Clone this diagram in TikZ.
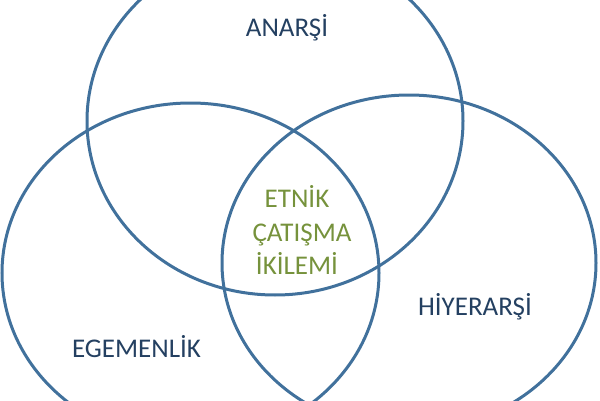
\documentclass[tikz,border=0pt]{standalone}
\usepackage{fontspec}
\setmainfont{Carlito}
\definecolor{ringblue}{RGB}{65,113,156}
\definecolor{labelblue}{RGB}{36,64,97}
\definecolor{centergreen}{RGB}{118,146,60}
\begin{document}
\begin{tikzpicture}[x=1pt,y=1pt,
  ring/.style={draw=ringblue,line width=3pt},
  lbl/.style={text=labelblue,font=\fontsize{27}{31}\selectfont,anchor=base,inner sep=0pt},
  mid/.style={text=centergreen,font=\fontsize{27}{31}\selectfont,anchor=base,inner sep=0pt}]
\useasboundingbox (0,0) rectangle (600,400);
\begin{scope}
\clip (0,0) rectangle (600,400);
\draw[ring] (275,279) ellipse [x radius=188,y radius=174];
\draw[ring] (190.5,127) ellipse [x radius=188.5,y radius=170];
\draw[ring] (409,137) ellipse [x radius=187,y radius=168];
\end{scope}
\node[lbl] (anarsi) at (287,363) {ANARŞİ};
\node[lbl] (hiyerarsi) at (475,85) {HİYERARŞİ};
\node[lbl] (egemenlik) at (136.5,43) {EGEMENLİK};
\node[mid] (etnik) at (297,193) {ETNİK};
\node[mid] (catisma) at (302,159) {ÇATIŞMA};
\node[mid] (ikilemi) at (297,126) {İKİLEMİ};
\end{tikzpicture}
\end{document}
